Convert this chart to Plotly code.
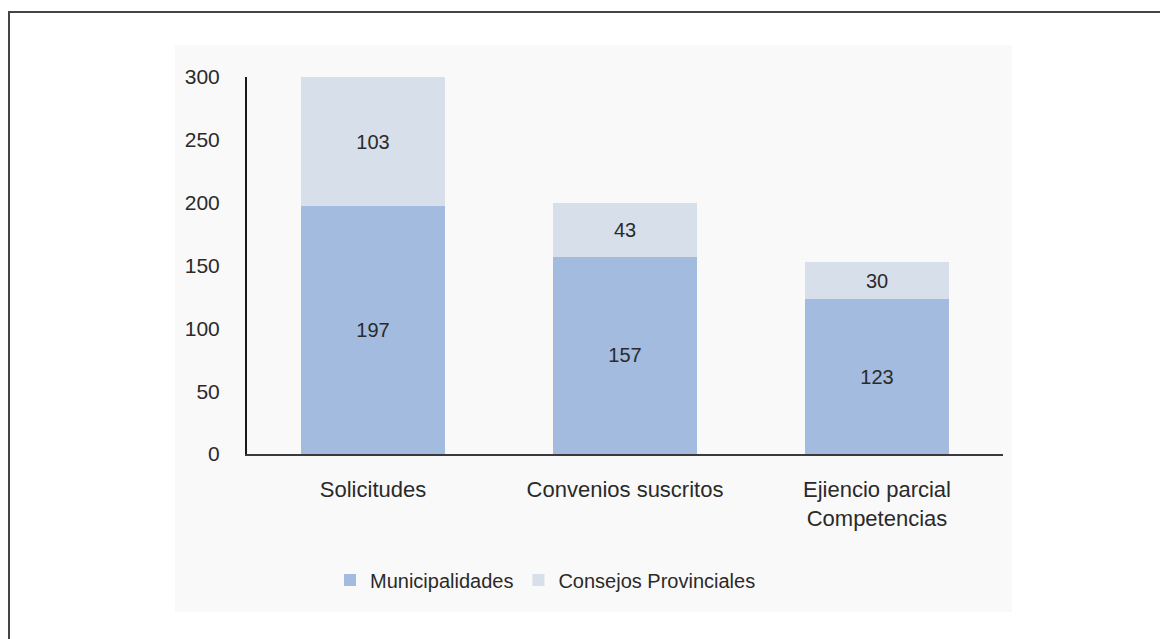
import plotly.graph_objects as go

categories = ["Solicitudes", "Convenios suscritos", "Ejiencio parcial<br>Competencias"]
municipalidades = [197, 157, 123]
consejos = [103, 43, 30]
yticks = [0, 50, 100, 150, 200, 250, 300]

# page offset of the plot div (body margin)
OFF = 8
W, H = 1168 - OFF, 639 - OFF
L, R, T, B = 247 - OFF, 1003 - OFF, 77 - OFF, 454 - OFF

def px(x):
    return (x - OFF - L) / (R - L)

def py(y):
    return (B - (y - OFF)) / (B - T)

font_fam = "Liberation Sans, Arial, sans-serif"
txt = "#2a2a2a"

fig = go.Figure()
fig.add_trace(go.Bar(
    x=categories, y=municipalidades, name="Municipalidades",
    marker=dict(color="#a2bbdf", line=dict(width=0)),
    text=municipalidades, textposition="inside", insidetextanchor="middle",
    textfont=dict(size=20, color=txt, family=font_fam), width=0.57,
))
fig.add_trace(go.Bar(
    x=categories, y=consejos, name="Consejos Provinciales",
    marker=dict(color="#d7dfea", line=dict(width=0)),
    text=consejos, textposition="inside", insidetextanchor="middle",
    textfont=dict(size=20, color=txt, family=font_fam), width=0.57,
))

fig.update_layout(
    width=W, height=H,
    barmode="stack",
    margin=dict(l=L, r=W - R, t=T, b=H - B),
    paper_bgcolor="white", plot_bgcolor="rgba(0,0,0,0)",
    font=dict(family=font_fam, size=20, color=txt),
    uniformtext=dict(mode=False),
    legend=dict(orientation="h", x=px(330), xanchor="left", y=py(580), yanchor="middle",
                font=dict(size=20, color=txt), itemwidth=30, bgcolor="rgba(0,0,0,0)",
                traceorder="normal"),
    xaxis=dict(showgrid=False, showline=True, linecolor="#3a3a3a", linewidth=2,
               ticks="", ticklabelstandoff=15, tickfont=dict(size=22, color=txt),
               zeroline=False),
    yaxis=dict(range=[0, 300], tickvals=yticks, showgrid=False, showline=True,
               linecolor="#1a1a1a", linewidth=2, ticks="", ticklabelstandoff=21,
               tickfont=dict(size=21, color=txt), zeroline=False),
    shapes=[
        dict(type="rect", xref="paper", yref="paper", x0=px(175), x1=px(1012),
             y0=py(612), y1=py(45), fillcolor="#f9f9f9", line=dict(width=0), layer="below"),
        dict(type="line", xref="paper", yref="paper", x0=px(9), x1=px(9),
             y0=py(11), y1=py(645), line=dict(color="#444", width=2)),
        dict(type="line", xref="paper", yref="paper", x0=px(8), x1=px(1175),
             y0=py(12), y1=py(12), line=dict(color="#444", width=2)),
    ],
)

fig.write_html("out.html")
